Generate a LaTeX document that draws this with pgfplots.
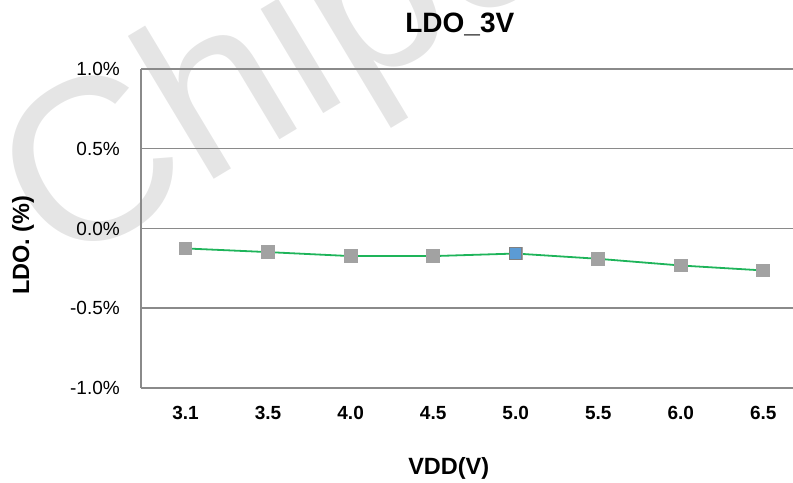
\documentclass[border=0pt]{standalone}
\usepackage{pgfplots}
\pgfplotsset{compat=1.18}
\usepackage{fontspec}
\setmainfont{Liberation Sans}
\definecolor{gridgray}{RGB}{138,138,138}
\definecolor{linegreen}{RGB}{30,180,90}
\definecolor{markgray}{RGB}{162,162,162}
\definecolor{markblue}{RGB}{91,155,213}
\definecolor{wm}{RGB}{229,229,229}
\begin{document}
\begin{tikzpicture}
\path[use as bounding box] (0,0) rectangle (793bp,483bp);
\node[rotate=31, anchor=base west, text=wm, inner sep=0pt, font=\fontsize{230bp}{230bp}\selectfont] at (58bp,210bp) {Chipown};
\begin{axis}[
  at={(141bp,95bp)}, anchor=south west,
  scale only axis, width=652bp, height=319bp,
  xmin=-0.54, xmax=7.36, ymin=-1, ymax=1,
  axis x line*=bottom, axis y line*=left,
  axis line style={gridgray, line width=1.5bp},
  ymajorgrids, grid style={gridgray, line width=1.5bp},
  xtick={0,...,7}, xticklabels={3.1,3.5,4.0,4.5,5.0,5.5,6.0,6.5},
  ytick={-1,-0.5,0,0.5,1},
  yticklabels={-1.0\%,-0.5\%,0.0\%,0.5\%,1.0\%},
  major tick length=0pt,
  xticklabel style={anchor=center, inner sep=0pt, yshift=-25bp, font=\fontsize{19bp}{19bp}\selectfont\bfseries},
  yticklabel style={anchor=east, inner sep=0pt, xshift=-21bp, font=\fontsize{19bp}{19bp}\selectfont},
  title={LDO\_3V},
  title style={at={(0.489,1.097)}, anchor=base, inner sep=0pt, font=\fontsize{28bp}{28bp}\selectfont\bfseries},
  xlabel={VDD(V)},
  xlabel style={at={(0.472,-0.270)}, anchor=base, inner sep=0pt, font=\fontsize{23.5bp}{23.5bp}\selectfont\bfseries},
  ylabel={LDO. (\%)},
  ylabel style={at={(-0.181,0.448)}, anchor=center, inner sep=0pt, font=\fontsize{23.5bp}{23.5bp}\selectfont\bfseries},
  clip=false,
]
\addplot[color=linegreen, line width=1.8bp, mark=square*, mark size=6bp,
  mark options={fill=markgray, draw=markgray}]
  coordinates {(0,-0.125) (1,-0.148) (2,-0.173) (3,-0.173) (4,-0.157) (5,-0.190) (6,-0.232) (7,-0.263)};
\addplot[only marks, mark=square*, mark size=6bp, mark options={fill=markblue, draw=gray, line width=0.8bp}]
  coordinates {(4,-0.157)};
\end{axis}
\end{tikzpicture}
\end{document}
